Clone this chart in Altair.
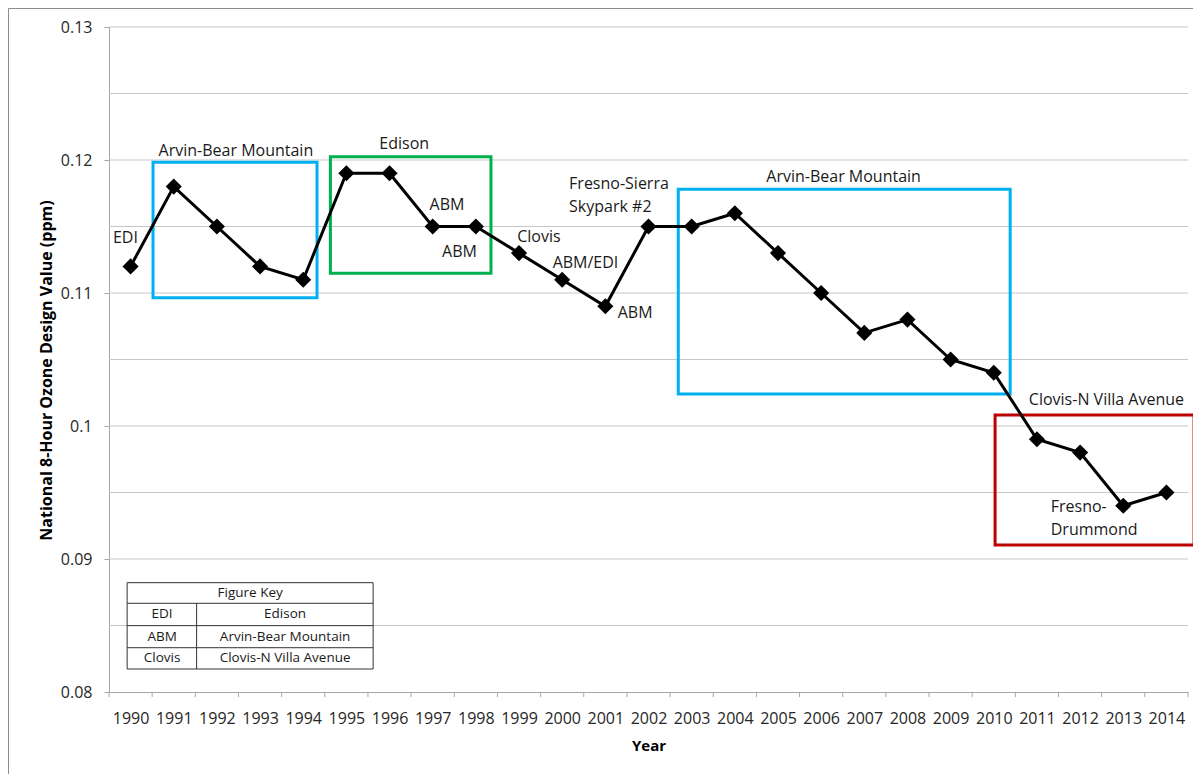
import altair as alt
import pandas as pd

# ---------------- data ----------------
years = list(range(1990, 2015))
design_values = [0.112, 0.118, 0.115, 0.112, 0.111, 0.119, 0.119, 0.115, 0.115,
                 0.113, 0.111, 0.109, 0.115, 0.115, 0.116, 0.113, 0.110, 0.107,
                 0.108, 0.105, 0.104, 0.099, 0.098, 0.094, 0.095]

y_label_values = [0.08, 0.09, 0.10, 0.11, 0.12, 0.13]
grid_values = [0.085, 0.09, 0.095, 0.10, 0.105, 0.11, 0.115, 0.12, 0.125, 0.13]
x_tick_bounds = [y - 0.5 for y in range(1990, 2016)]

# centred annotations
ann_c_text = ["EDI", "Arvin-Bear Mountain", "Edison", "ABM", "ABM", "Clovis",
              "ABM/EDI", "ABM", "Arvin-Bear Mountain", "Clovis-N Villa Avenue"]
ann_c_x = [1989.88, 1992.44, 1996.34, 1997.33, 1997.62, 1999.46,
           2000.54, 2001.69, 2006.52, 2012.61]
ann_c_y = [0.1141, 0.12064, 0.1212, 0.11658, 0.11308, 0.11421,
           0.11226, 0.1085, 0.11872, 0.10193]

# left-aligned annotations
ann_l_text = ["Fresno-Sierra", "Skypark #2", "Fresno-", "Drummond"]
ann_l_x = [2000.16, 2000.16, 2011.32, 2011.32]
ann_l_y = [0.11822, 0.11643, 0.09391, 0.09216]

# highlight boxes
box_x = [1990.52, 1994.63, 2002.69, 2010.03]
box_x2 = [1994.32, 1998.35, 2010.38, 2014.64]
box_y = [0.11983, 0.12025, 0.1178, 0.10083]
box_y2 = [0.10965, 0.11148, 0.10241, 0.09105]
box_color = ["#00B0F0", "#00B050", "#00B0F0", "#C00000"]

# figure key table
key_left, key_div, key_right = 1989.92, 1991.53, 1995.62
key_top, key_r1, key_r2, key_r3, key_bottom = 0.08822, 0.08667, 0.08499, 0.08333, 0.08173
key_text = ["Figure Key", "EDI", "Edison", "ABM", "Arvin-Bear Mountain",
            "Clovis", "Clovis-N Villa Avenue"]
key_text_x = [1992.77, 1990.73, 1993.58, 1990.73, 1993.58, 1990.73, 1993.58]
key_text_y = [0.08744, 0.08583, 0.08583, 0.08416, 0.08416, 0.08253, 0.08253]

# ---------------- chart ----------------
FONT = "Open Sans"
W, H = 1079, 665
xs = alt.Scale(domain=[1989.5, 2014.5], nice=False, zero=False)
ys = alt.Scale(domain=[0.08, 0.13], nice=False, zero=False)

X_TITLE = "Year"
Y_TITLE = "National 8-Hour Ozone Design Value (ppm)"

x_axis = alt.Axis(values=years, format="d", ticks=False, tickSize=0,
                  grid=False, labelPadding=18, labelOverlap=False,
                  labelFlush=False, domainColor="#a6a6a6",
                  titleY=53, titleBaseline="middle", titleFontSize=15)
y_axis = alt.Axis(values=y_label_values, format=".2~f", grid=False,
                  tickSize=5, tickColor="#a6a6a6", domainColor="#a6a6a6",
                  labelPadding=12, titleX=-63, titleY=343,
                  titleAngle=-90, titleAlign="center", titleBaseline="middle",
                  titleFontSize=16)


def X(field):
    return alt.X(field, scale=xs, title=X_TITLE, axis=x_axis)


def Y(field):
    return alt.Y(field, scale=ys, title=Y_TITLE, axis=y_axis)


df = pd.DataFrame({"year": years, "value": design_values})

grid = alt.Chart(pd.DataFrame({"g": grid_values})).mark_rule(
    color="#c6c6c6", strokeWidth=1
).encode(y=Y("g:Q"))

xticks = alt.Chart(pd.DataFrame({"b": x_tick_bounds})).mark_rule(
    color="#a6a6a6", strokeWidth=1
).encode(x=X("b:Q"), y=alt.value(H), y2=alt.value(H + 5))

boxes = alt.Chart(pd.DataFrame({"x": box_x, "x2": box_x2, "y": box_y, "y2": box_y2,
                                "c": box_color})).mark_rect(
    fill="transparent", strokeWidth=3
).encode(
    x=X("x:Q"), x2="x2:Q",
    y=Y("y:Q"), y2="y2:Q",
    stroke=alt.Stroke("c:N", scale=None),
)

line = alt.Chart(df).mark_line(color="black", strokeWidth=3).encode(
    x=X("year:Q"), y=Y("value:Q"),
)

points = alt.Chart(df).mark_point(
    shape="diamond", filled=True, color="black", size=260, opacity=1
).encode(x=X("year:Q"), y=Y("value:Q"))

ann_c = alt.Chart(pd.DataFrame({"t": ann_c_text, "x": ann_c_x, "y": ann_c_y})).mark_text(
    font=FONT, fontSize=16, color="#1a1a1a", align="center", baseline="middle"
).encode(x=X("x:Q"), y=Y("y:Q"), text="t:N")

ann_l = alt.Chart(pd.DataFrame({"t": ann_l_text, "x": ann_l_x, "y": ann_l_y})).mark_text(
    font=FONT, fontSize=16, color="#1a1a1a", align="left", baseline="middle"
).encode(x=X("x:Q"), y=Y("y:Q"), text="t:N")

key_box = alt.Chart(pd.DataFrame({"x": [key_left], "x2": [key_right],
                                  "y": [key_top], "y2": [key_bottom]})).mark_rect(
    fill="white", stroke="#333333", strokeWidth=1
).encode(x=X("x:Q"), x2="x2:Q", y=Y("y:Q"), y2="y2:Q")

key_h = alt.Chart(pd.DataFrame({"y": [key_r1, key_r2, key_r3],
                                "x": [key_left] * 3, "x2": [key_right] * 3})).mark_rule(
    color="#333333", strokeWidth=1
).encode(x=X("x:Q"), x2="x2:Q", y=Y("y:Q"))

key_v = alt.Chart(pd.DataFrame({"x": [key_div], "y": [key_r1], "y2": [key_bottom]})).mark_rule(
    color="#333333", strokeWidth=1
).encode(x=X("x:Q"), y=Y("y:Q"), y2="y2:Q")

key_t = alt.Chart(pd.DataFrame({"t": key_text, "x": key_text_x, "y": key_text_y})).mark_text(
    font=FONT, fontSize=13.5, color="#1a1a1a", align="center", baseline="middle"
).encode(x=X("x:Q"), y=Y("y:Q"), text="t:N")

border = alt.Chart(pd.DataFrame({"a": [0]})).mark_rect(
    fill="transparent", stroke="#8c8c8c", strokeWidth=1
).encode(x=alt.value(-100.5), x2=alt.value(W + 300), y=alt.value(-18.5), y2=alt.value(H + 300))

chart = alt.layer(
    grid, xticks, key_box, key_h, key_v, key_t, boxes, line, points, ann_c, ann_l, border
).properties(
    width=W, height=H,
    autosize=alt.AutoSizeParams(type="none"),
    padding={"left": 101, "top": 19, "right": 5, "bottom": 82},
).configure_view(stroke=None).configure_axis(
    labelFont=FONT, labelFontSize=16, labelColor="#262626",
    titleFont=FONT, titleFontWeight="bold", titleColor="#000000",
)

chart.save("out.html", embed_options={"renderer": "svg", "actions": False})
